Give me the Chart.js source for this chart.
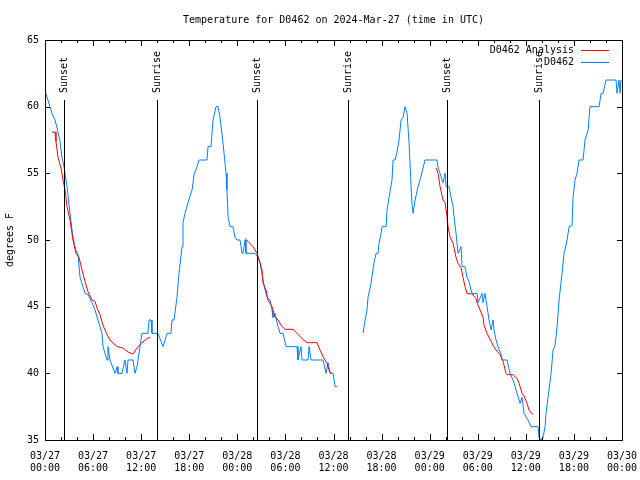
<!DOCTYPE html>
<html>
<head>
<meta charset="utf-8">
<script src="https://cdn.jsdelivr.net/npm/chart.js@4"></script>
<style>
  html, body { margin: 0; padding: 0; background: #fff; }
  canvas { display: block; }
</style>
</head>
<body>
<canvas id="tempChart" width="640" height="480"></canvas>
<script>
// hours since 03/27 00:00 UTC
const obsHours = [0.1, 0.62, 0.87, 1.25, 1.5, 1.87, 2.12, 2.37, 2.75, 3.12, 3.49, 3.87, 4.12, 4.37, 4.74, 4.99, 5.37, 5.87, 6.24, 6.61,
  7.11, 7.24, 7.74, 7.86, 8.11, 8.74, 8.99, 9.1, 9.61, 9.98, 10.23, 10.36, 10.98, 11.23, 11.48, 11.61, 12.1, 12.85, 12.98, 13.23,
  13.35, 14.1, 14.35, 14.73, 15.23, 15.72, 15.85, 16.1, 16.47, 16.72, 17.1, 17.22, 17.47, 17.85, 18.35, 18.6, 18.97, 19.22, 20.22, 20.34,
  20.72, 20.84, 20.97, 21.34, 21.59, 21.84, 22.21, 22.59, 22.71, 22.84, 23.09, 23.46, 23.71, 23.96, 24.34, 24.59, 24.71, 24.96, 25.08, 26.21,
  26.58, 26.83, 27.21, 27.46, 27.71, 28.08, 28.33, 28.45, 28.7, 29.08, 29.33, 29.7, 30.08, 31.45, 31.57, 31.95, 32.07, 32.82, 32.95, 33.2,
  34.69, 35.07, 35.32, 35.57, 35.94, 36.19, 36.44, 38,
  39.69, 39.94, 40.18, 40.31, 40.68, 40.93, 41.06, 41.31, 41.56, 41.68, 41.93, 42.06, 42.56, 42.68, 42.93, 43.3, 43.43, 43.68, 43.93, 44.18,
  44.43, 44.68, 44.93, 45.18, 45.43, 45.68, 45.8, 45.93, 46.18, 46.55, 46.8, 47.05, 47.42, 48.92, 49.05, 49.3, 49.55, 49.67, 49.92, 50.05,
  50.42, 50.67, 50.92, 51.04, 51.29, 51.42, 51.54, 51.92, 52.04, 52.41, 52.66, 52.91, 53.16, 53.29, 53.91, 54.04, 54.54, 54.66, 54.91, 55.16,
  55.41, 55.66, 55.91, 56.03, 56.28, 56.53, 56.91, 57.03, 57.66, 58.03, 58.41, 58.66, 59.03, 59.28, 59.53, 59.78, 60.28, 60.65, 61.52, 61.65,
  61.9, 62.15, 62.4, 62.52, 62.77, 63.15, 63.4, 63.65, 63.9, 64.15, 64.52, 64.77, 65.15, 65.4, 65.77, 65.89, 66.14, 66.39, 66.64, 67.14,
  67.39, 67.77, 68.01, 69.14, 69.39, 69.64, 70.01, 71.26, 71.38, 71.63, 71.76, 71.88];
const obsTemps = [61, 60, 59.5, 59, 58.4, 57.4, 56.2, 55.5, 54, 52, 50.2, 49.2, 48.9, 47.2, 46.5, 46, 45.9, 45.3, 44.75, 44,
  43, 42, 41, 42, 41, 40, 40.5, 40, 40, 41, 40, 41, 41, 40, 40.5, 41, 43, 43, 44, 44,
  43, 43, 42.6, 42, 43, 43, 44, 44, 45.7, 47.5, 49.5, 51.3, 52, 52.8, 53.75, 54.9, 55.5, 56, 56, 57,
  57, 58, 59, 60, 60, 59.2, 57.3, 55, 53.75, 51.75, 51, 51, 50.2, 50, 50, 49, 49, 50, 49, 49,
  48.7, 48.3, 47, 46.25, 45.7, 45.5, 44.75, 44.2, 44.5, 43.5, 43, 43, 42, 42, 41, 42, 41, 41, 42, 41,
  41, 40, 40.8, 40, 40, 39, 39, null,
  43, 44, 44.75, 45.7, 46.75, 47.75, 48.3, 49, 49, 49.75, 50.5, 51, 51, 52.25, 53.2, 54.5, 56, 56, 56.6, 57.5,
  59, 59.2, 60, 59.5, 57.3, 54, 52.75, 52, 53, 54, 54.5, 55.1, 56, 56, 55.4, 55, 54.5, 54.3, 55, 54,
  54, 53.2, 52.5, 51.75, 50.5, 49.75, 49, 49.5, 48, 48, 47.2, 46.9, 46.25, 46, 46, 45.3, 46, 45.3, 46, 45,
  44, 43.25, 44, 43.25, 42.5, 42, 41.4, 41, 41, 40, 39.5, 39, 38.25, 37.75, 38.2, 37, 36.5, 36, 36, 35.2,
  35, 35.2, 36, 37, 38.2, 40, 41.75, 42.1, 43.5, 45.5, 47.5, 49, 50, 51, 51.1, 53.2, 54.5, 55, 56, 56,
  57.5, 58.25, 60, 60, 61, 61, 62, 62, 61, 62, 61, 62];

const anaHours = [0.87, 1.25, 1.37, 1.62, 2.0, 2.25, 2.5, 2.75, 3.12, 3.49, 3.87, 4.24, 4.62, 4.99, 5.37, 5.87, 6.24, 6.49, 6.86, 7.24,
  7.74, 8.11, 8.99, 9.73, 10.36, 10.98, 11.48, 12.1, 12.73, 13.1, 19,
  24.96, 25.33, 25.96, 26.46, 26.83, 27.08, 27.21, 27.58, 27.83, 28.33, 28.7, 29.08, 29.58, 29.95, 30.95, 31.45, 32.07, 32.7, 33.94, 34.32,
  34.69, 35.19, 35.44, 35.69, 42,
  48.8, 49.05, 49.3, 49.67, 49.92, 50.17, 50.29, 50.54, 50.92, 51.29, 51.54, 51.92, 52.16, 52.41, 52.66, 53.29, 53.79, 53.91, 54.29, 54.66,
  54.79, 55.16, 55.66, 55.91, 56.28, 56.78, 57.16, 57.53, 57.66, 58.41, 58.91, 59.16, 59.53, 59.78, 60.15, 60.4, 60.78, 60.9];
const anaTemps = [58.1, 58.1, 57.4, 56.2, 55.4, 54.5, 53.75, 52.5, 51.5, 50, 49, 48.7, 47.75, 46.9, 46.1, 45.5, 45.4, 44.9, 44.4, 43.6,
  42.9, 42.5, 42, 41.9, 41.6, 41.45, 41.9, 42.3, 42.6, 42.7, null,
  50.1, 49.9, 49.5, 49, 48.3, 47.75, 46.75, 46.25, 45.5, 45, 44.2, 44, 43.5, 43.3, 43.3, 43, 42.6, 42.3, 42.3, 41.75,
  41.25, 40.75, 40.25, 40, null,
  55.4, 55, 54, 53, 52.8, 51.75, 51, 50.25, 49.75, 48.7, 48.25, 47.9, 47.2, 46.5, 46, 45.95, 45.6, 45.3, 44.75, 44.2,
  43.6, 43, 42.4, 42.1, 41.75, 41.4, 40.9, 40, 39.9, 39.9, 39.6, 39.25, 38.5, 38.3, 37.75, 37.25, 36.95, 36.95];

const sunHours = [2.41, 13.94, 26.4, 37.8, 50.2, 61.7];
const sunLabels = ["Sunset", "Sunrise", "Sunset", "Sunrise", "Sunset", "Sunrise"];
const yTicks = [35, 40, 45, 50, 55, 60, 65];

const FONT = "'DejaVu Sans Mono', monospace";

function toPoints(xs, ys) {
  return xs.map((x, i) => ({ x: x, y: ys[i] }));
}

// frame, inward tics, sun lines and the legend
const decorPlugin = {
  id: "decor",
  afterDatasetsDraw(chart) {
    const ctx = chart.ctx;
    const a = chart.chartArea;
    const xs = chart.scales.x;
    const ys = chart.scales.y;
    ctx.save();
    ctx.strokeStyle = "#000";
    ctx.lineWidth = 1;

    // sun lines
    ctx.font = "10px " + FONT;
    ctx.fillStyle = "#000";
    sunHours.forEach((h, i) => {
      const px = Math.round(xs.getPixelForValue(h)) + 0.5;
      ctx.beginPath();
      ctx.moveTo(px, a.top + 60);
      ctx.lineTo(px, a.bottom);
      ctx.stroke();
      ctx.save();
      ctx.translate(px, a.top + 53);
      ctx.rotate(-Math.PI / 2);
      ctx.textAlign = "left";
      ctx.textBaseline = "middle";
      ctx.fillText(sunLabels[i], 0, 0);
      ctx.restore();
    });

    // frame
    ctx.strokeRect(Math.round(a.left) + 0.5, Math.round(a.top) + 0.5,
      Math.round(a.right - a.left), Math.round(a.bottom - a.top));

    // x tics every 2 hours, longer every 6
    ctx.beginPath();
    for (let h = 0; h <= 72; h += 2) {
      const px = Math.round(xs.getPixelForValue(h)) + 0.5;
      const len = h % 6 === 0 ? 6 : 3;
      ctx.moveTo(px, a.bottom);
      ctx.lineTo(px, a.bottom - len);
      ctx.moveTo(px, a.top);
      ctx.lineTo(px, a.top + len);
    }
    yTicks.forEach(v => {
      const py = Math.round(ys.getPixelForValue(v)) + 0.5;
      ctx.moveTo(a.left, py);
      ctx.lineTo(a.left + 5, py);
      ctx.moveTo(a.right, py);
      ctx.lineTo(a.right - 5, py);
    });
    ctx.stroke();

    // legend
    ctx.textAlign = "right";
    ctx.textBaseline = "middle";
    chart.data.datasets.forEach((ds, i) => {
      const y = a.top + 10 + i * 12;
      ctx.fillStyle = "#000";
      ctx.fillText(ds.label, a.right - 48, y);
      ctx.strokeStyle = ds.borderColor;
      ctx.beginPath();
      ctx.moveTo(a.right - 41, y + 0.5);
      ctx.lineTo(a.right - 13, y + 0.5);
      ctx.stroke();
    });
    ctx.restore();
  }
};

Chart.defaults.font.family = FONT;
Chart.defaults.font.size = 10;
Chart.defaults.color = "#000";

new Chart(document.getElementById("tempChart").getContext("2d"), {
  type: "line",
  data: {
    datasets: [
      {
        label: "D0462 Analysis",
        data: toPoints(anaHours, anaTemps),
        borderColor: "#ff0000",
        borderWidth: 1,
        pointRadius: 0,
        spanGaps: false,
        tension: 0
      },
      {
        label: "D0462",
        data: toPoints(obsHours, obsTemps),
        borderColor: "#0080ff",
        borderWidth: 1,
        pointRadius: 0,
        spanGaps: false,
        tension: 0
      }
    ]
  },
  options: {
    responsive: false,
    animation: false,
    layout: { padding: { top: 0, right: 18, left: 0, bottom: 0 } },
    plugins: {
      legend: { display: false },
      tooltip: { enabled: false },
      title: {
        display: true,
        fullSize: false,
        text: "Temperature for D0462 on 2024-Mar-27 (time in UTC)",
        font: { family: FONT, size: 10, weight: "normal" },
        color: "#000",
        padding: { top: 14, bottom: 14 }
      }
    },
    scales: {
      x: {
        type: "linear",
        min: 0,
        max: 72,
        grid: { display: false, drawTicks: false },
        border: { display: false },
        afterFit: s => {
          s.height = 40;
          s.paddingLeft = 0;
          s.paddingRight = 0;
        },
        ticks: {
          stepSize: 6,
          autoSkip: false,
          maxRotation: 0,
          padding: 10,
          callback: v => {
            const day = 27 + Math.floor(v / 24);
            const hr = v % 24;
            return ["03/" + day, String(hr).padStart(2, "0") + ":00"];
          }
        }
      },
      y: {
        min: 35,
        max: 65,
        grid: { display: false, drawTicks: false },
        border: { display: false },
        afterFit: s => { s.width = 45; },
        ticks: { stepSize: 5, padding: 6 },
        title: { display: true, text: "degrees F", padding: 4 }
      }
    }
  },
  plugins: [decorPlugin]
});
</script>
</body>
</html>
